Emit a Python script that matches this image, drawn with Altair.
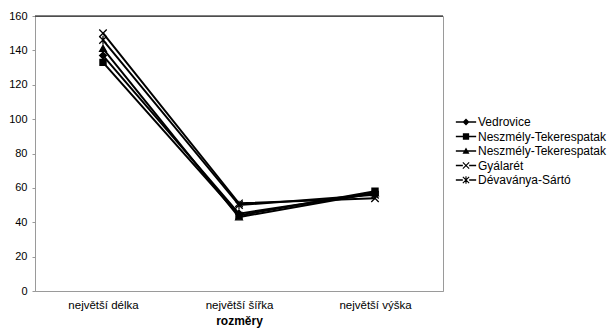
import json
import math
import altair as alt
import pandas as pd

# Measured dimensions per site
dims = ["největší délka", "největší šířka", "největší výška"]
series_names = [
    "Vedrovice",
    "Neszmély-Tekerespatak",
    "Neszmély-Tekerespatak",
    "Gyálarét",
    "Dévaványa-Sártó",
]
vedrovice = [137, 45, 57]
neszmely_a = [133, 44, 58]
neszmely_b = [141, 43, 57]
gyalaret = [150, 51, 54]
devavanya = [146, 50, 56]
all_values = [vedrovice, neszmely_a, neszmely_b, gyalaret, devavanya]

keys = [f"s{i}" for i in range(len(series_names))]
rows = []
for key, vals in zip(keys, all_values):
    for d, v in zip(dims, vals):
        rows.append({"series": key, "dim": d, "value": v})
df = pd.DataFrame(rows)

# Marker shapes on the lines (SVG paths in unit coordinates)
marker_paths = [
    "M0,-1L1,0L0,1L-1,0Z",
    "M-0.9,-0.9H0.9V0.9H-0.9Z",
    "M0,-1L1,0.8H-1Z",
    "M-1.1,-1.1L1.1,1.1M1.1,-1.1L-1.1,1.1",
    "M-1.1,-1.1L1.1,1.1M1.1,-1.1L-1.1,1.1M0,-1.3V1.3",
]


def seg(x1, y1, x2, y2, w):
    """Thin filled quad along a segment (clockwise on screen)."""
    dx, dy = x2 - x1, y2 - y1
    ln = math.hypot(dx, dy)
    nx, ny = dy / ln * w, -dx / ln * w
    pts = [(x1 + nx, y1 + ny), (x2 + nx, y2 + ny), (x2 - nx, y2 - ny), (x1 - nx, y1 - ny)]
    return "M" + "L".join(f"{px:.3f},{py:.3f}" for px, py in pts) + "Z"


# Legend symbols: a short line with the marker in the middle, built from filled shapes
LW = 0.115
XW = 0.08
line_full = seg(-1.45, 0, 1.45, 0, LW)
line_split = seg(-1.45, 0, -0.45, 0, LW) + seg(0.45, 0, 1.45, 0, LW)
x_cross = seg(-0.45, -0.45, 0.45, 0.45, XW) + seg(0.45, -0.45, -0.45, 0.45, XW)
legend_paths = [
    line_full + "M0,-0.5L0.5,0L0,0.5L-0.5,0Z",
    line_full + "M-0.45,-0.45L0.45,-0.45L0.45,0.45L-0.45,0.45Z",
    line_full + "M0,-0.5L0.5,0.4L-0.5,0.4Z",
    line_split + x_cross,
    line_split + x_cross + seg(0, -0.55, 0, 0.55, XW),
]

label_expr = f"{json.dumps(series_names, ensure_ascii=False)}[indexof({json.dumps(keys)}, datum.value)]"

FONT = "Liberation Sans"

x_enc = alt.X(
    "dim:N",
    sort=dims,
    scale=alt.Scale(domain=dims, paddingInner=0, paddingOuter=0),
    axis=alt.Axis(
        title="rozměry",
        labelAngle=0,
        labelFont=FONT,
        labelFontSize=11.5,
        labelColor="black",
        labelPadding=8,
        ticks=False,
        domainColor="#9a9a9a",
        titleFont=FONT,
        titleFontSize=12,
        titleFontWeight="bold",
        titlePadding=5,
        titleColor="black",
    ),
)
y_scale = alt.Scale(domain=[0, 160], nice=False, zero=True)
y_axis = alt.Axis(
    title=None,
    values=list(range(0, 161, 20)),
    grid=False,
    labelOverlap=False,
    labelFont=FONT,
    labelFontSize=11,
    labelColor="black",
    labelPadding=5,
    tickSize=3,
    tickColor="#9a9a9a",
    domainColor="#9a9a9a",
)
y_enc = alt.Y("value:Q", scale=y_scale, axis=y_axis)

base = alt.Chart(df)

lines = base.mark_line(color="black", strokeWidth=2).encode(
    x=x_enc, y=y_enc, detail="series:N"
)

points = base.mark_point(
    filled=True, color="black", stroke="black", strokeWidth=1.3, size=46, opacity=1
).encode(
    x=x_enc,
    y=y_enc,
    shape=alt.Shape(
        "series:N",
        scale=alt.Scale(domain=keys, range=marker_paths),
        legend=None,
    ),
)

# Legend-only layer: no rows drawn, the explicit domain keeps all entries
legend_layer = base.transform_filter("false").mark_point(
    filled=True, color="black", opacity=1
).encode(
    x=x_enc,
    y=y_enc,
    shape=alt.Shape(
        "series:N",
        scale=alt.Scale(domain=keys, range=legend_paths),
        legend=alt.Legend(
            title=None,
            orient="none",
            legendX=424,
            legendY=99,
            padding=0,
            symbolSize=196,
            symbolOpacity=1,
            symbolFillColor="black",
            symbolStrokeWidth=0,
            labelFont=FONT,
            labelFontSize=12,
            labelColor="black",
            labelOffset=5,
            rowPadding=1.5,
            labelExpr=label_expr,
        ),
    ),
)

top_rule = alt.Chart(pd.DataFrame({"v": [160]})).mark_rule(
    color="black", strokeWidth=1
).encode(y=alt.Y("v:Q", scale=y_scale, axis=y_axis))

chart = (
    alt.layer(lines, points, legend_layer, top_rule)
    .resolve_scale(shape="independent")
    .properties(
        width=408,
        height=275,
        autosize=alt.AutoSizeParams(type="none"),
        padding={"left": 35, "top": 16, "right": 165, "bottom": 42},
        background="white",
    )
    .configure_view(stroke="#9a9a9a", strokeWidth=1)
)

chart.save("out.html", embed_options={"renderer": "svg", "actions": False})
